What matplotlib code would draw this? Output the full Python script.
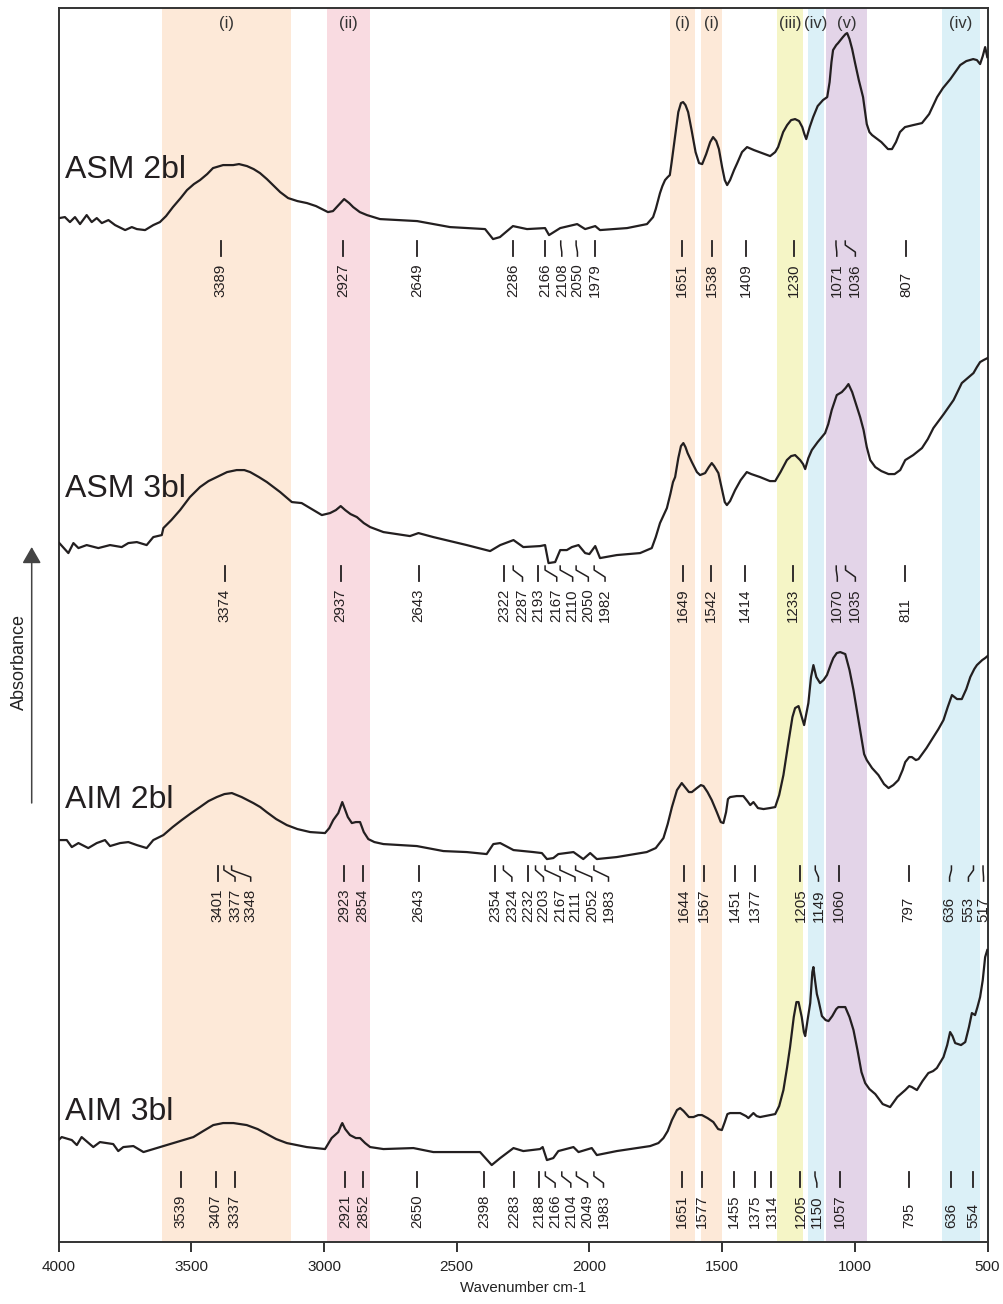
import matplotlib.pyplot as plt

plt.rcParams['font.family'] = ['Liberation Sans', 'DejaVu Sans']

# FTIR spectra: (wavenumber cm-1, stacked absorbance a.u.)
asm2 = [(3997, 1024), (3976, 1025), (3957, 1020), (3938, 1025), (3919, 1018), (3894, 1027), (3875, 1020),
        (3856, 1024), (3837, 1019), (3812, 1022), (3787, 1017), (3749, 1012), (3724, 1015), (3705, 1013),
        (3674, 1012), (3643, 1017), (3618, 1020), (3595, 1026), (3569, 1035), (3540, 1044), (3516, 1052),
        (3490, 1058), (3467, 1062), (3440, 1068), (3418, 1074), (3380, 1077), (3342, 1077), (3320, 1078),
        (3290, 1076), (3265, 1073), (3241, 1069), (3215, 1063), (3192, 1057), (3165, 1050), (3135, 1044),
        (3100, 1041), (3064, 1039), (3030, 1036), (2985, 1030), (2966, 1031), (2945, 1037), (2924, 1043),
        (2905, 1039), (2890, 1035), (2865, 1030), (2838, 1027), (2789, 1023), (2649, 1021), (2525, 1015),
        (2393, 1013), (2363, 1003), (2337, 1005), (2288, 1016), (2235, 1013), (2167, 1014), (2152, 1007),
        (2110, 1014), (2046, 1018), (2016, 1013), (1978, 1016), (1960, 1012), (1858, 1014), (1783, 1018),
        (1760, 1025), (1750, 1033), (1734, 1049), (1725, 1056), (1715, 1062), (1705, 1065), (1697, 1067),
        (1690, 1080), (1680, 1100), (1665, 1130), (1655, 1139), (1647, 1140), (1638, 1137), (1628, 1130),
        (1615, 1112), (1600, 1090), (1587, 1079), (1575, 1078), (1560, 1088), (1545, 1100), (1534, 1105),
        (1522, 1101), (1512, 1093), (1500, 1075), (1490, 1062), (1481, 1057), (1470, 1062), (1455, 1072),
        (1443, 1079), (1425, 1090), (1406, 1095), (1380, 1092), (1350, 1089), (1319, 1086), (1300, 1090),
        (1289, 1095), (1270, 1110), (1255, 1117), (1240, 1122), (1225, 1123), (1210, 1121), (1198, 1115),
        (1190, 1108), (1183, 1103), (1170, 1115), (1157, 1125), (1140, 1136), (1120, 1142), (1104, 1145),
        (1095, 1160), (1088, 1180), (1082, 1192), (1070, 1197), (1063, 1199), (1045, 1205), (1035, 1208),
        (1029, 1209), (1020, 1203), (1010, 1193), (999, 1179), (985, 1162), (969, 1145), (955, 1118),
        (945, 1110), (935, 1107), (900, 1100), (875, 1093), (860, 1093), (845, 1100), (830, 1110),
        (811, 1115), (780, 1117), (747, 1119), (720, 1128), (690, 1145), (668, 1154), (640, 1163),
        (603, 1177), (580, 1181), (554, 1183), (540, 1182), (528, 1178), (518, 1186), (509, 1195), (501, 1185)]

asm3 = [(3997, 699), (3963, 689), (3944, 699), (3925, 694), (3894, 697), (3850, 694), (3806, 697),
        (3762, 695), (3737, 699), (3705, 700), (3668, 697), (3643, 705), (3611, 707), (3605, 714),
        (3575, 722), (3542, 732), (3505, 745), (3467, 755), (3435, 761), (3404, 765), (3365, 770),
        (3329, 772), (3300, 772), (3278, 770), (3245, 765), (3215, 760), (3165, 750), (3121, 740),
        (3084, 739), (3040, 732), (3008, 727), (2977, 729), (2955, 732), (2937, 736), (2920, 732),
        (2900, 728), (2876, 725), (2850, 719), (2826, 715), (2776, 710), (2676, 706), (2644, 709),
        (2588, 705), (2462, 697), (2374, 691), (2336, 697), (2286, 702), (2249, 695), (2186, 696),
        (2167, 697), (2154, 679), (2129, 680), (2110, 692), (2085, 692), (2066, 695), (2041, 697),
        (2016, 689), (2000, 688), (1978, 696), (1960, 684), (1897, 687), (1809, 689), (1765, 694),
        (1750, 705), (1734, 719), (1720, 727), (1708, 734), (1695, 748), (1685, 760), (1677, 765),
        (1665, 784), (1655, 796), (1646, 799), (1638, 795), (1630, 789), (1614, 780), (1595, 770),
        (1583, 767), (1564, 769), (1550, 775), (1539, 779), (1530, 776), (1514, 769), (1500, 752),
        (1490, 740), (1482, 737), (1470, 741), (1451, 752), (1430, 762), (1407, 770), (1390, 768),
        (1357, 765), (1320, 761), (1300, 761), (1280, 770), (1256, 782), (1240, 786), (1225, 787),
        (1206, 782), (1195, 778), (1187, 773), (1175, 784), (1162, 792), (1140, 800), (1112, 809),
        (1100, 818), (1087, 832), (1068, 847), (1049, 850), (1035, 854), (1024, 858), (1010, 850),
        (992, 835), (980, 825), (967, 812), (955, 795), (942, 782), (923, 775), (900, 771), (873, 768),
        (850, 768), (829, 772), (810, 782), (780, 787), (747, 794), (725, 803), (704, 814), (665, 828),
        (628, 842), (610, 852), (597, 859), (575, 864), (553, 869), (540, 875), (528, 880), (515, 882),
        (500, 884)]

aim2 = [(3997, 402), (3969, 402), (3950, 395), (3925, 399), (3888, 394), (3856, 399), (3825, 402),
        (3806, 396), (3768, 399), (3737, 400), (3705, 397), (3668, 394), (3643, 402), (3605, 407),
        (3570, 415), (3536, 422), (3500, 429), (3467, 435), (3435, 441), (3404, 445), (3375, 448),
        (3347, 449), (3310, 445), (3266, 439), (3240, 435), (3216, 430), (3180, 423), (3140, 417),
        (3100, 413), (3052, 410), (2996, 409), (2980, 414), (2965, 422), (2946, 429), (2935, 437),
        (2931, 440), (2920, 432), (2910, 425), (2895, 419), (2880, 420), (2864, 420), (2850, 410),
        (2833, 403), (2810, 400), (2776, 398), (2650, 396), (2550, 391), (2462, 390), (2387, 388),
        (2362, 398), (2336, 399), (2286, 392), (2211, 390), (2179, 389), (2160, 383), (2136, 384),
        (2117, 388), (2060, 390), (2023, 383), (1997, 389), (1972, 383), (1897, 385), (1784, 390),
        (1750, 394), (1721, 404), (1705, 418), (1689, 435), (1670, 452), (1652, 459), (1640, 455),
        (1625, 450), (1614, 450), (1595, 454), (1580, 457), (1570, 456), (1555, 450), (1539, 442),
        (1520, 430), (1505, 420), (1495, 419), (1485, 430), (1478, 443), (1470, 445), (1445, 446),
        (1420, 446), (1405, 441), (1394, 437), (1382, 440), (1365, 434), (1344, 433), (1320, 434),
        (1300, 435), (1285, 447), (1269, 467), (1250, 500), (1235, 525), (1225, 534), (1212, 536),
        (1200, 525), (1191, 517), (1183, 528), (1175, 539), (1165, 565), (1156, 577), (1145, 565),
        (1131, 559), (1118, 562), (1105, 567), (1090, 578), (1081, 584), (1068, 589), (1055, 590),
        (1036, 588), (1020, 572), (1005, 552), (990, 528), (980, 512), (965, 488), (955, 482),
        (935, 474), (911, 467), (890, 458), (873, 454), (855, 457), (836, 462), (820, 472), (810, 480),
        (795, 485), (785, 485), (770, 482), (760, 483), (730, 494), (704, 505), (685, 513), (666, 522),
        (650, 535), (634, 547), (615, 543), (597, 543), (580, 553), (565, 565), (550, 573), (540, 577),
        (520, 582), (509, 584), (500, 586)]

aim3 = [(4000, 102), (3988, 105), (3950, 102), (3931, 97), (3913, 105), (3869, 95), (3844, 100),
        (3794, 98), (3775, 91), (3756, 95), (3718, 96), (3680, 90), (3618, 95), (3580, 98), (3542, 101),
        (3492, 105), (3455, 111), (3417, 117), (3380, 119), (3341, 119), (3291, 117), (3250, 113),
        (3215, 108), (3180, 103), (3140, 99), (3065, 95), (2996, 93), (2980, 100), (2971, 104),
        (2946, 110), (2935, 117), (2931, 119), (2920, 113), (2902, 107), (2880, 104), (2864, 104),
        (2845, 99), (2826, 95), (2776, 93), (2663, 94), (2588, 90), (2412, 90), (2368, 77), (2336, 84),
        (2286, 94), (2249, 91), (2186, 93), (2176, 95), (2160, 82), (2136, 84), (2117, 91), (2060, 95),
        (2041, 90), (1991, 94), (1972, 87), (1897, 91), (1771, 96), (1740, 99), (1721, 104), (1705, 111),
        (1689, 122), (1670, 132), (1658, 134), (1645, 131), (1625, 125), (1608, 125), (1590, 127),
        (1576, 127), (1555, 124), (1533, 120), (1515, 113), (1501, 112), (1490, 120), (1480, 128),
        (1470, 129), (1432, 129), (1410, 126), (1401, 124), (1382, 129), (1370, 126), (1357, 125),
        (1300, 128), (1285, 136), (1269, 152), (1255, 175), (1244, 195), (1230, 225), (1220, 240),
        (1212, 240), (1200, 225), (1192, 210), (1187, 206), (1178, 222), (1168, 239), (1160, 270),
        (1156, 275), (1150, 262), (1143, 248), (1137, 242), (1124, 226), (1110, 222), (1099, 221),
        (1085, 226), (1070, 233), (1062, 235), (1036, 235), (1020, 225), (1005, 212), (990, 192),
        (975, 170), (961, 159), (945, 153), (923, 148), (895, 138), (867, 135), (840, 145), (810, 152),
        (795, 156), (785, 155), (766, 152), (745, 161), (723, 169), (705, 171), (691, 174), (666, 185),
        (652, 197), (641, 210), (632, 206), (622, 199), (600, 197), (584, 200), (570, 215), (559, 229),
        (547, 227), (538, 235), (528, 245), (518, 262), (509, 285), (501, 292)]

# assigned peaks and the wavenumber where each label is written
asm2_peaks = [3389, 2927, 2649, 2286, 2166, 2108, 2050, 1979, 1651, 1538, 1409, 1230, 1071, 1036, 807]
asm2_pos = [3389, 2927, 2649, 2286, 2166, 2104, 2045, 1979, 1651, 1538, 1409, 1230, 1068, 998, 807]
asm3_peaks = [3374, 2937, 2643, 2322, 2287, 2193, 2167, 2110, 2050, 1982, 1649, 1542, 1414, 1233, 1070,
              1035, 811]
asm3_pos = [3374, 2937, 2643, 2322, 2252, 2193, 2123, 2063, 2004, 1941, 1649, 1542, 1414, 1233, 1066,
            998, 811]
aim2_peaks = [3401, 3377, 3348, 2923, 2854, 2643, 2354, 2324, 2232, 2203, 2167, 2111, 2052, 1983, 1644,
              1567, 1451, 1377, 1205, 1149, 1060, 797, 636, 553, 517]
aim2_pos = [3401, 3335, 3276, 2923, 2854, 2643, 2354, 2292, 2232, 2173, 2110, 2054, 1991, 1928, 1644,
            1567, 1451, 1377, 1205, 1137, 1060, 797, 643, 572, 515]
aim3_peaks = [3539, 3407, 3337, 2921, 2852, 2650, 2398, 2283, 2188, 2166, 2104, 2049, 1983, 1651, 1577,
              1455, 1375, 1314, 1205, 1150, 1057, 795, 636, 554]
aim3_pos = [3539, 3407, 3337, 2921, 2852, 2650, 2398, 2283, 2188, 2129, 2070, 2007, 1947, 1651, 1577,
            1455, 1375, 1314, 1205, 1143, 1057, 795, 636, 554]

# assignment bands
band_hi = [3609, 2987, 1695, 1579, 1293, 1176, 1109, 671]
band_lo = [3124, 2826, 1601, 1501, 1196, 1116, 955, 530]
band_lab = ['(i)', '(ii)', '(i)', '(i)', '(iii)', '(iv)', '(v)', '(iv)']
band_col = ['#fde9d8', '#f9dbe1', '#fde9d8', '#fde9d8', '#f5f5c6', '#dbf0f7', '#e3d4e8', '#dbf0f7']

ink = '#231f20'

fig = plt.figure(figsize=(10.04, 13.04), dpi=100)
ax = fig.add_axes([0.0583, 0.0475, 0.9253, 0.9463])

for hi, lo, lab, col in zip(band_hi, band_lo, band_lab, band_col):
    ax.axvspan(lo, hi, color=col, lw=0, zorder=0)
    ax.text((hi + lo) / 2, 1219, lab, ha='center', va='center', fontsize=12, color='#333333')

spectra = [('ASM 2bl', asm2, asm2_peaks, asm2_pos, 945, 1064),
           ('ASM 3bl', asm3, asm3_peaks, asm3_pos, 620, 745),
           ('AIM 2bl', aim2, aim2_peaks, aim2_pos, 320, 434),
           ('AIM 3bl', aim3, aim3_peaks, aim3_pos, 14, 122)]

for name, pts, peaks, pos, base, ylab in spectra:
    w, a = zip(*pts)
    ax.plot(w, a, color=ink, lw=1.6, zorder=3)
    ax.text(3975, ylab, name, fontsize=23, color=ink, ha='left', va='baseline')
    # short leader above each number, bent where the label had to move aside
    top, bot = base + 56, base + 41
    for p, t in zip(peaks, pos):
        if p == t:
            ax.plot([p, p], [bot, top], color=ink, lw=1.3)
        else:
            ax.plot([p, p, t, t], [top, top - 4, bot + 4, bot], color=ink, lw=1.1)
        ax.text(t, base, str(p), rotation=90, ha='center', va='bottom', fontsize=10.8, color=ink)

ax.set_xlim(4000, 500)
ax.set_ylim(0, 1234)
ax.set_xticks([4000, 3500, 3000, 2500, 2000, 1500, 1000, 500])
ax.set_yticks([])
ax.tick_params(axis='x', direction='out', length=7, width=1.3, labelsize=11, pad=6, colors='#222222')
for s in ax.spines.values():
    s.set_color('#333333')
    s.set_linewidth(1.4)
ax.set_xlabel('Wavenumber cm-1', fontsize=10.8, labelpad=5, color='#222222')

fig.text(19 / 1004, 1 - 662 / 1304, 'Absorbance', rotation=90, ha='center', va='center', fontsize=13,
         color='#222222')
ax.annotate('', xy=(31.7 / 1004, 1 - 547 / 1304), xytext=(31.7 / 1004, 1 - 803 / 1304),
            xycoords='figure fraction', textcoords='figure fraction',
            arrowprops=dict(arrowstyle='-|>,head_length=0.4,head_width=0.23', color='#444444',
                            lw=1.1, mutation_scale=25, shrinkA=0, shrinkB=0))

fig.savefig('out.png', dpi=100)
